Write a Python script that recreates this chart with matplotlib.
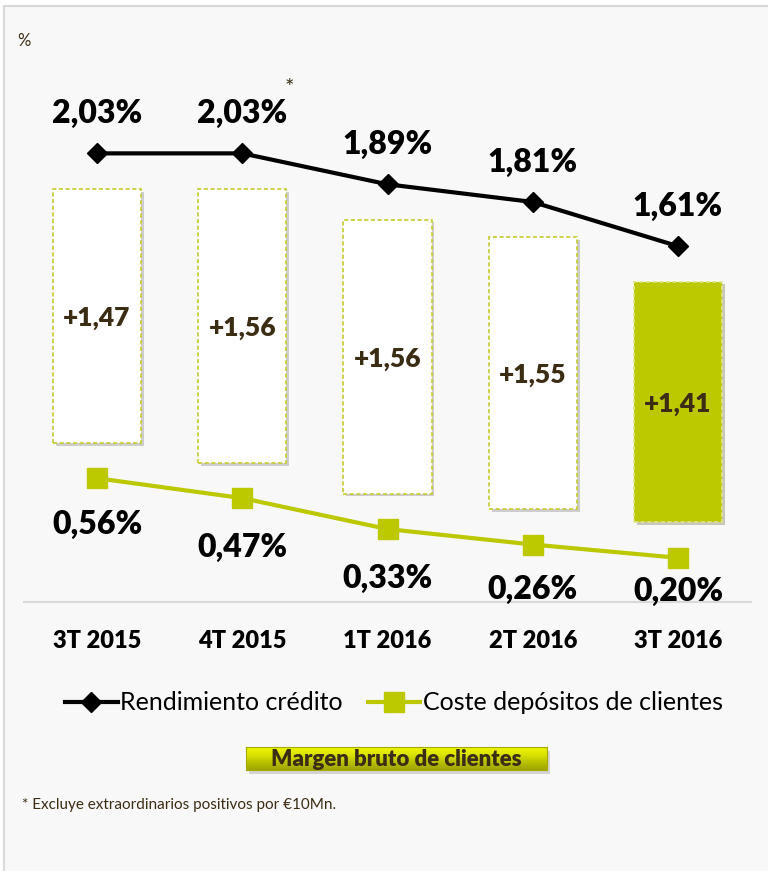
import numpy as np
import matplotlib
matplotlib.use("Agg")
import matplotlib.pyplot as plt
from matplotlib.lines import Line2D
from matplotlib.patches import Rectangle
from matplotlib.colors import LinearSegmentedColormap
import matplotlib.patheffects as pe

plt.rcParams['font.family'] = ['Lato', 'DejaVu Sans']

# data
quarters = ['3T 2015', '4T 2015', '1T 2016', '2T 2016', '3T 2016']
rendimiento = [2.03, 2.03, 1.89, 1.81, 1.61]
coste = [0.56, 0.47, 0.33, 0.26, 0.20]
margen = [1.47, 1.56, 1.56, 1.55, 1.41]

GREEN = '#bcc800'
BROWN = '#3b2c14'
W, H = 768, 871

fig = plt.figure(figsize=(W / 100, H / 100), dpi=100, facecolor='white')
# light panel with grey frame on top / left
fig.patches.append(Rectangle((4 / W, -0.01), 1.0, 1 - 6 / H + 0.01, transform=fig.transFigure,
                             fc='#f8f8f8', ec='#d9d9d9', lw=1.5, zorder=-5))

ax = fig.add_axes([24.4 / W, 269 / H, 726.2 / W, 552.5 / H])
ax.set_zorder(1)
ax.set_facecolor('none')
x = np.arange(len(quarters))
ax.set_xlim(-0.5, 4.5)
ax.set_ylim(0, 2.5)

# floating boxes between the two lines
r = np.array(rendimiento)
c = np.array(coste)
bottoms = c + 0.16
tops = r - 0.16
shadow = [pe.SimplePatchShadow(offset=(2, -2), alpha=0.25), pe.Normal()]
for i in range(len(quarters)):
    last = i == len(quarters) - 1
    b = ax.bar(x[i], tops[i] - bottoms[i], bottom=bottoms[i], width=0.606,
               color=GREEN if last else 'white',
               edgecolor='#dfe38a' if last else '#c5cc2e',
               linestyle=(0, (2.5, 1.5)), linewidth=1.2, zorder=2)
    b[0].set_path_effects(shadow)
    ax.text(x[i], (tops[i] + bottoms[i]) / 2, '+' + f'{margen[i]:.2f}'.replace('.', ','),
            ha='center', va='center_baseline', fontsize=19, fontweight='heavy',
            color=BROWN, zorder=4)

ax.plot(x, rendimiento, color='black', lw=3, marker='D', ms=10.5, zorder=3, clip_on=False)
ax.plot(x, coste, color=GREEN, lw=3, marker='s', ms=14, zorder=3, clip_on=False)

for i in range(len(quarters)):
    ax.annotate(f'{rendimiento[i]:.2f}'.replace('.', ',') + '%', (x[i], rendimiento[i]),
                xytext=(0, 21.6), textcoords='offset points', ha='center', va='baseline',
                fontsize=23, fontweight='heavy', color='black')

low_offsets = [-40, -42, -42.5, -39, -31]
for i in range(len(quarters)):
    ax.annotate(f'{coste[i]:.2f}'.replace('.', ',') + '%', (x[i], coste[i]),
                xytext=(0, low_offsets[i]), textcoords='offset points', ha='center',
                va='baseline', fontsize=23, fontweight='heavy', color='black')

# asterisk on second point
ax.annotate('*', (x[1], rendimiento[1]), xytext=(34, 47), textcoords='offset points',
            ha='center', va='center', fontsize=16, color=BROWN)

ax.set_xticks(x, quarters)
ax.tick_params(axis='x', length=0, pad=20, labelsize=17)
for lab in ax.get_xticklabels():
    lab.set_fontweight('heavy')
ax.set_yticks([])
for s in ['top', 'right', 'left']:
    ax.spines[s].set_visible(False)
ax.spines['bottom'].set_color('#d9d9d9')
ax.spines['bottom'].set_linewidth(1.5)

# legend
handles = [Line2D([], [], color='black', lw=3, marker='D', ms=10.5),
           Line2D([], [], color=GREEN, lw=3, marker='s', ms=14)]
fig.legend(handles, ['Rendimiento crédito', 'Coste depósitos de clientes'],
           loc='center', bbox_to_anchor=(394 / W, 1 - 703 / H), ncol=2, frameon=False,
           fontsize=18, handlelength=2.1, handletextpad=0.1, columnspacing=1.0,
           numpoints=1)

# "Margen bruto de clientes" button
bx0, by0, bw, bh = 246 / W, 1 - 770 / H, 301 / W, 23 / H
fig.patches.append(Rectangle((bx0 + 3 / W, by0 - 4 / H), bw, bh, transform=fig.transFigure,
                             fc='#000000', alpha=0.15, ec='none', zorder=2))
bax = fig.add_axes([bx0, by0, bw, bh])
bax.set_zorder(3)
grad = np.linspace(0, 1, 50)[:, None]
cmap = LinearSegmentedColormap.from_list('btn', ['#eef500', '#dbe300', '#b9c100', '#9ea500'])
bax.imshow(grad, aspect='auto', cmap=cmap, extent=(0, 1, 0, 1))
bax.set_xticks([])
bax.set_yticks([])
for s in bax.spines.values():
    s.set_color('#a3aa00')
bax.text(0.5, 0.45, 'Margen bruto de clientes', ha='center', va='center',
         fontsize=16, fontweight='heavy', color=BROWN, transform=bax.transAxes)

fig.text(17 / W, 1 - 41 / H, '%', fontsize=12, color=BROWN, va='center')
fig.text(22 / W, 1 - 805 / H, '* Excluye extraordinarios positivos por €10Mn.',
         fontsize=11, color=BROWN, va='center')

fig.savefig('out.png', dpi=100, facecolor=fig.get_facecolor())
